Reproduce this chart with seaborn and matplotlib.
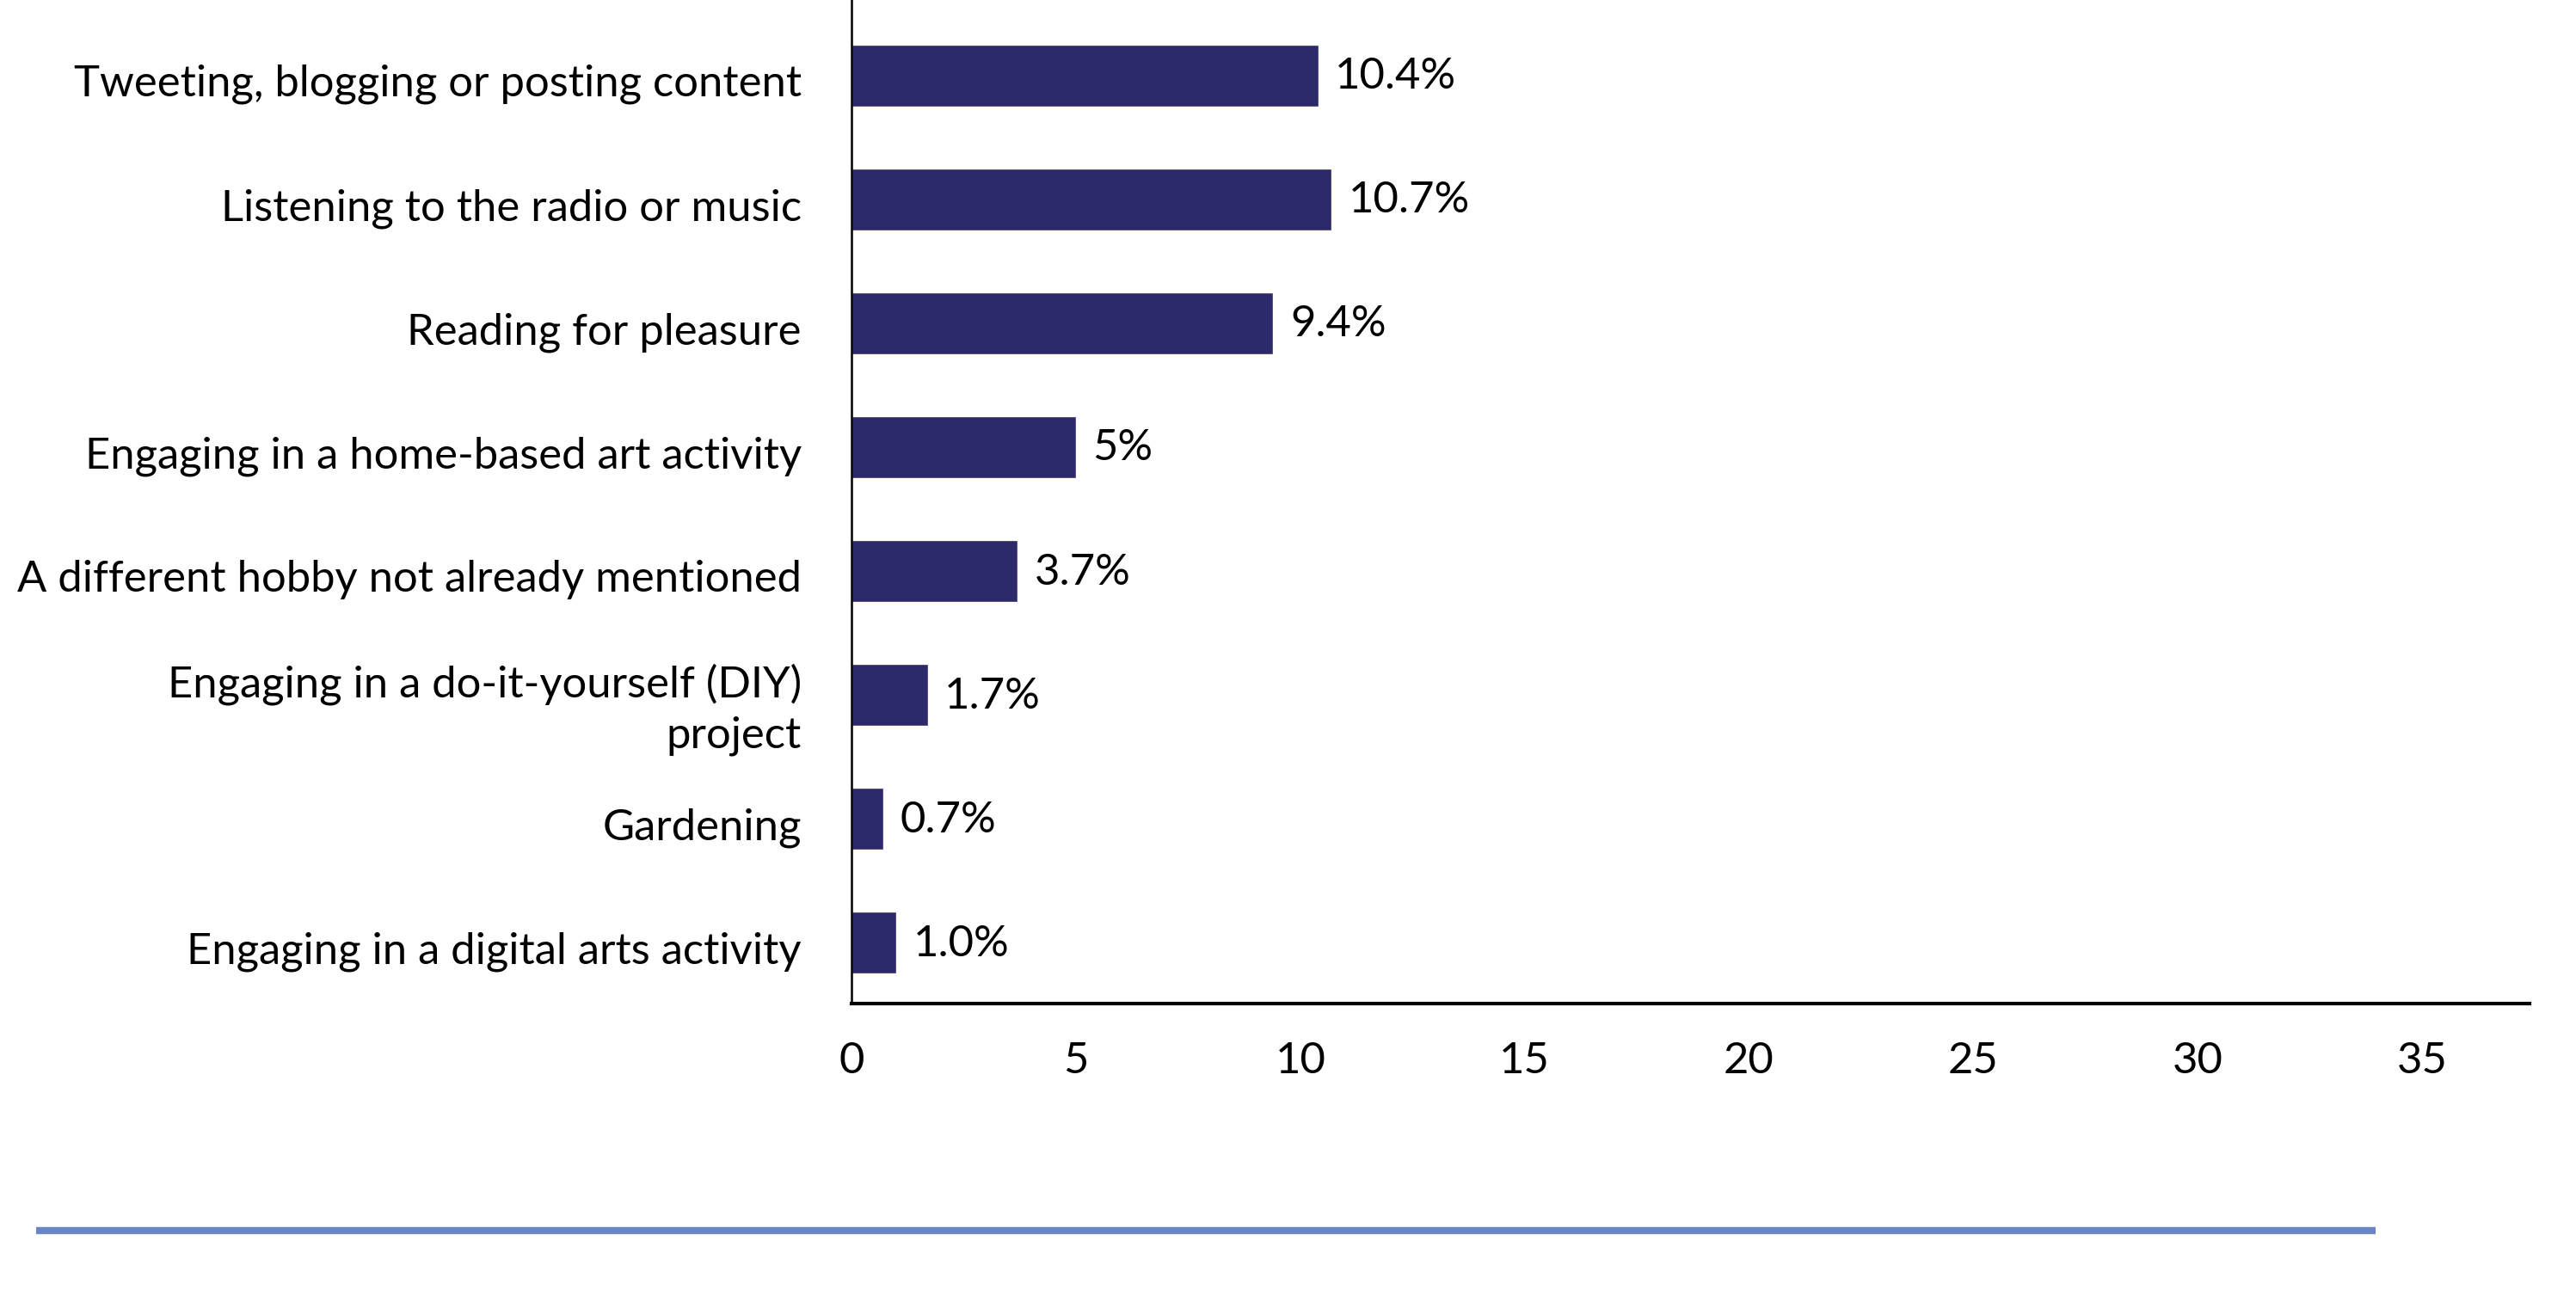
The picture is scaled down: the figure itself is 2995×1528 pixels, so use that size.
import matplotlib
matplotlib.use("Agg")
import matplotlib.pyplot as plt
import matplotlib.transforms as mtransforms
import seaborn as sns
import pandas as pd
from matplotlib.lines import Line2D

categories = [
    "Tweeting, blogging or posting content",
    "Listening to the radio or music",
    "Reading for pleasure",
    "Engaging in a home-based art activity",
    "A different hobby not already mentioned",
    "Engaging in a do-it-yourself (DIY)\nproject",
    "Gardening",
    "Engaging in a digital arts activity",
]
values = [10.4, 10.7, 9.4, 5.0, 3.7, 1.7, 0.7, 1.0]
value_labels = ["10.4%", "10.7%", "9.4%", "5%", "3.7%", "1.7%", "0.7%", "1.0%"]
x_ticks = [0, 5, 10, 15, 20, 25, 30, 35]

sns.set_theme(style="white")
plt.rcParams["font.family"] = ["Lato", "DejaVu Sans"]

df = pd.DataFrame({"category": categories, "value": values})

fig = plt.figure(figsize=(29.95, 15.28), dpi=100)
ax = fig.add_axes([0.3306, 0.2363, 0.9820 - 0.3306, 1.0 - 0.2363])

sns.barplot(data=df, x="value", y="category", color="#2C2A6A", width=0.5,
            saturation=1, ax=ax, orient="h")

FS = 36.5
for i, (v, lab) in enumerate(zip(values, value_labels)):
    ax.annotate(lab, xy=(v, i), xytext=(14, -1), textcoords="offset points",
                va="center", ha="left", fontsize=FS, color="black")

ax.set_xlim(0, 37.4)
ax.set_ylim(7.49, -0.61)
ax.set_xticks(x_ticks)
ax.set_xticklabels([str(t) for t in x_ticks])
ax.set_xlabel("")
ax.set_ylabel("")
ax.tick_params(axis="x", length=0, pad=32, labelsize=FS, colors="black")
ax.tick_params(axis="y", length=0, pad=42, labelsize=FS, colors="black")
shift = mtransforms.ScaledTranslation(0, -4 / 72, fig.dpi_scale_trans)
for lab in ax.get_yticklabels():
    lab.set_multialignment("right")
    lab.set_linespacing(1.35)
    lab.set_transform(lab.get_transform() + shift)

for s in ["top", "right"]:
    ax.spines[s].set_visible(False)
ax.spines["left"].set_color("black")
ax.spines["left"].set_linewidth(1.8)
ax.spines["bottom"].set_color("black")
ax.spines["bottom"].set_linewidth(3)
ax.grid(False)

fig.add_artist(Line2D([42 / 2995, 2762 / 2995], [1 - 1431 / 1528, 1 - 1431 / 1528],
                      transform=fig.transFigure, color="#6B86C4", linewidth=6,
                      solid_capstyle="butt"))

fig.savefig("out.png", dpi=100)
